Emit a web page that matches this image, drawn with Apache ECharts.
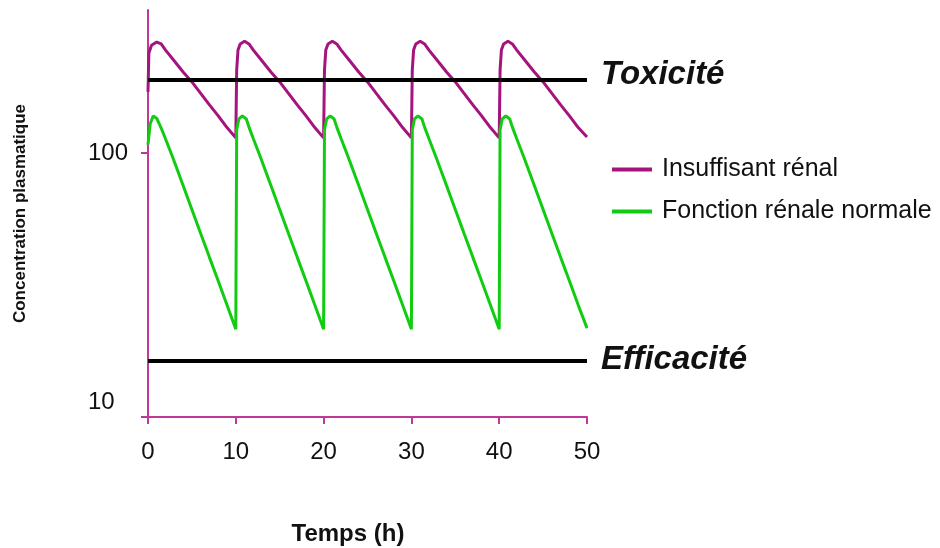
<!DOCTYPE html>
<html>
<head>
<meta charset="utf-8">
<script src="https://cdn.jsdelivr.net/npm/echarts@6/dist/echarts.min.js"></script>
<style>
  html, body { margin: 0; padding: 0; background: #fff; }
  #main { width: 940px; height: 548px; }
</style>
</head>
<body>
<div id="main"></div>
<script>
// Insuffisant rénal (temps en h, concentration)
var timeRenal = [
  0, 0.1, 0.4, 1, 1.5, 2, 3, 4, 5, 6, 7, 8, 9, 10,
  10.1, 10.25, 10.5, 11, 11.5, 12, 13, 14, 15, 16, 17, 18, 19, 20,
  20.1, 20.25, 20.5, 21, 21.5, 22, 23, 24, 25, 26, 27, 28, 29, 30,
  30.1, 30.25, 30.5, 31, 31.5, 32, 33, 34, 35, 36, 37, 38, 39, 40,
  40.1, 40.25, 40.5, 41, 41.5, 42, 43, 44, 45, 46, 47, 48, 49, 50
];
var concRenal = [
  176, 252, 271, 279, 274, 259, 234, 211.5, 193, 173.5, 156, 141, 126.5, 115,
  215, 259, 274, 281, 274, 259, 234, 211.5, 193, 173.5, 156, 141, 126.5, 115,
  215, 259, 274, 281, 274, 259, 234, 211.5, 193, 173.5, 156, 141, 126.5, 115,
  215, 259, 274, 281, 274, 259, 234, 211.5, 193, 173.5, 156, 141, 126.5, 115,
  215, 259, 274, 281, 274, 259, 234, 211.5, 193, 173.5, 156, 141, 126.5, 116
];
// Fonction rénale normale
var timeNormal = [
  0, 0.25, 0.6, 1, 1.5, 2, 2.8, 4, 5, 6, 7, 8, 9, 10,
  10.1, 10.35, 10.75, 11.2, 11.5, 12, 12.8, 14, 15, 16, 17, 18, 19, 20,
  20.1, 20.35, 20.75, 21.2, 21.5, 22, 22.8, 24, 25, 26, 27, 28, 29, 30,
  30.1, 30.35, 30.75, 31.2, 31.5, 32, 32.8, 34, 35, 36, 37, 38, 39, 40,
  40.1, 40.35, 40.75, 41.2, 41.5, 42, 42.8, 44, 45, 46, 47, 48, 49, 50
];
var concNormal = [
  108, 131, 141, 137.6, 126, 113.8, 96.4, 74, 59.3, 47.5, 38.1, 30.6, 24.5, 19.6,
  124, 137, 141, 137, 127, 114, 96.4, 74, 59.3, 47.5, 38.1, 30.6, 24.5, 19.6,
  124, 137, 141, 137, 127, 114, 96.4, 74, 59.3, 47.5, 38.1, 30.6, 24.5, 19.6,
  124, 137, 141, 137, 127, 114, 96.4, 74, 59.3, 47.5, 38.1, 30.6, 24.5, 19.6,
  124, 137, 141, 137, 127, 114, 96.4, 74, 59.3, 47.5, 38.1, 30.6, 24.5, 19.8
];
var seuilNames = ['Toxicité', 'Efficacité'];
var seuilValues = [196.4, 14.6];
var yLabels = [10, 100];
var xTicks = [0, 10, 20, 30, 40, 50];

var chartDom = document.getElementById('main');
var myChart = echarts.init(chartDom);
var axisColor = '#c2389a';
var font = "'Liberation Sans', Arial, sans-serif";

function pairs(t, c) {
  return t.map(function (x, i) { return [x, c[i]]; });
}

var option = {
  animation: false,
  textStyle: { fontFamily: font },
  grid: { left: 148, right: 353, top: 10, bottom: 131, containLabel: false, outerBoundsMode: 'none' },
  legend: {
    orient: 'vertical',
    left: 607,
    top: 152,
    icon: 'rect',
    itemWidth: 40,
    itemHeight: 4,
    itemGap: 17,
    textStyle: { fontSize: 25, color: '#111', fontFamily: font, padding: [0, 0, 0, 5] },
    data: ['Insuffisant rénal', 'Fonction rénale normale']
  },
  xAxis: {
    type: 'value',
    min: 0,
    max: 50,
    interval: 10,
    name: 'Temps (h)',
    nameLocation: 'middle',
    nameGap: 105,
    nameTextStyle: { fontSize: 24, fontWeight: 'bold', color: '#111', padding: [0, 39, 0, 0] },
    axisLine: { lineStyle: { color: axisColor, width: 2 } },
    axisTick: { show: true, length: 7, lineStyle: { color: axisColor, width: 2 } },
    axisLabel: {
      fontSize: 24, color: '#111', margin: 23,
      customValues: xTicks
    },
    splitLine: { show: false }
  },
  yAxis: {
    type: 'log',
    logBase: 10,
    min: 8.706,
    max: 375.2,
    name: 'Concentration plasmatique',
    nameLocation: 'middle',
    nameRotate: 90,
    nameGap: 119,
    nameTextStyle: { fontSize: 17, fontWeight: 'bold', color: '#111' },
    axisLine: { show: true, lineStyle: { color: axisColor, width: 2 } },
    axisTick: { show: true, length: 7, lineStyle: { color: axisColor, width: 2 }, customValues: [8.706, 100] },
    axisLabel: {
      fontSize: 24, color: '#111', align: 'left', margin: 60,
      customValues: yLabels
    },
    splitLine: { show: false }
  },
  series: [
    {
      name: 'Insuffisant rénal',
      type: 'line',
      showSymbol: false,
      color: '#a5147e',
      lineStyle: { width: 3 },
      data: pairs(timeRenal, concRenal),
      markLine: {
        silent: true,
        symbol: 'none',
        lineStyle: { color: '#000', width: 4, type: 'solid' },
        label: {
          position: 'end',
          distance: 14,
          formatter: '{b}',
          fontSize: 33,
          fontWeight: 'bold',
          fontStyle: 'italic',
          color: '#111'
        },
        data: [
          { name: seuilNames[0], yAxis: seuilValues[0], label: { offset: [0, -5] } },
          { name: seuilNames[1], yAxis: seuilValues[1], label: { offset: [0, -1] } }
        ]
      }
    },
    {
      name: 'Fonction rénale normale',
      type: 'line',
      showSymbol: false,
      color: '#11cc11',
      lineStyle: { width: 3 },
      data: pairs(timeNormal, concNormal)
    }
  ]
};

option && myChart.setOption(option);
</script>
</body>
</html>
